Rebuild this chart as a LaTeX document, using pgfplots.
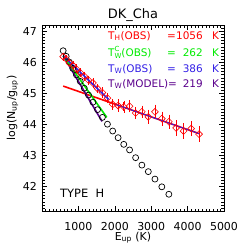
\documentclass[border=0pt]{standalone}
\usepackage{fontspec}
\setmainfont{DejaVu Sans}
\usepackage{pgfplots}
\pgfplotsset{compat=1.18}
\definecolor{idlred}{RGB}{255,0,0}
\definecolor{idlgreen}{RGB}{0,235,0}
\definecolor{idlblue}{RGB}{50,30,230}
\definecolor{idlpurple}{RGB}{90,0,140}
\newcommand\fs[1]{\fontsize{#1}{#1}\selectfont}
\begin{document}
\begin{tikzpicture}[x=1bp,y=1bp]
\begin{axis}[at={(0,0)},anchor=south west, scale only axis, width=182bp, height=186bp,
 xmin=0,xmax=5000,ymin=41.2,ymax=47.2,
 xtick={1000,2000,3000,4000,5000}, ytick={42,43,44,45,46,47},
 minor xtick={0,100,...,5000}, minor ytick={41.3,41.4,...,47.1},
 tick align=inside, major tick length=5bp, minor tick length=2.5bp,
 axis line style={line width=0.6bp}, every tick/.style={black,line width=0.4bp},
 /pgf/number format/1000 sep={}, /pgf/number format/assume math mode=true,
 tick label style={font=\fs{11}},
 xticklabel style={anchor=base, yshift=-19bp, inner sep=0pt},
 yticklabel style={anchor=east, inner sep=0pt, xshift=-5bp},
]
\addplot[only marks, mark=o, mark size=3.0bp, black, mark options={line width=0.7bp}] coordinates {
(581,46.37) (664,46.19) (752,46.00) (846,45.80) (946,45.59) (1052,45.38) (1162,45.16) (1278,44.94)
(1399,44.71) (1526,44.47) (1660,44.22) (1798,44.00) (1942,43.78) (2091,43.565) (2246,43.35)
(2406,43.17) (2572,42.92) (2744,42.68) (2921,42.47) (3103,42.23) (3292,41.98) (3485,41.74)};
\addplot[only marks, idlred, mark=square, mark size=2.4bp, mark options={rotate=45, line width=0.6bp},
  error bars/.cd, y dir=both, y explicit, error bar style={line width=0.6bp}, error mark options={mark size=1.5bp}]
 table[x=E,y=y,y error=e] {
E y e
581 46.18 0.08
664 46.10 0.08
752 45.98 0.08
846 45.90 0.08
946 45.78 0.1
1052 45.66 0.1
1162 45.55 0.1
1278 45.42 0.1
1399 45.33 0.1
1526 45.15 0.1
1660 45.02 0.12
1798 44.84 0.12
1942 44.64 0.12
2091 44.60 0.15
2246 44.56 0.15
2406 44.58 0.15
2572 44.36 0.15
2744 44.40 0.15
2921 44.24 0.18
3103 44.40 0.18
3292 44.18 0.18
3485 44.08 0.18
3684 43.88 0.2
3889 43.78 0.2
4099 43.86 0.2
4315 43.68 0.2
};
\addplot[idlred, line width=1.6bp] coordinates {(582,45.23) (4320,43.695)};
\addplot[idlblue, line width=0.9bp] coordinates {(2000,44.647) (4320,43.695)};
\addplot[idlpurple, line width=1.6bp] coordinates {(586,46.2) (1650,44.09)};
\addplot[idlgreen, line width=1.6bp] coordinates {(586,46.2) (1780,44.22)};
\addplot[idlblue, line width=1.6bp] coordinates {(586,46.2) (1830,44.80)};
\end{axis}
\node[anchor=base, inner sep=0pt, font=\fs{13}] at (91,193) {DK\_Cha};
\node[anchor=base west, inner sep=0pt, font=\fs{10.5}, text=idlred] at (66,172) {T\textsubscript{H}(OBS)};
\node[anchor=base west, inner sep=0pt, font=\fs{10.5}, text=idlgreen] at (66,155) {T\rlap{\raisebox{0.8ex}{\fs{7}C}}\raisebox{-0.4ex}{\fs{7}W}(OBS)};
\node[anchor=base west, inner sep=0pt, font=\fs{10.5}, text=idlblue] at (66,139) {T\textsubscript{W}(OBS)};
\node[anchor=base west, inner sep=0pt, font=\fs{10.5}, text=idlpurple] at (66,124) {T\textsubscript{W}(MODEL)};
\node[anchor=base west, inner sep=0pt, font=\fs{10.5}, text=idlred] at (125,172) {=};
\node[anchor=base west, inner sep=0pt, font=\fs{10.5}, text=idlgreen] at (125,155) {=};
\node[anchor=base west, inner sep=0pt, font=\fs{10.5}, text=idlblue] at (125,139) {=};
\node[anchor=base west, inner sep=0pt, font=\fs{10.5}, text=idlpurple] at (126,124) {=};
\node[anchor=base east, inner sep=0pt, font=\fs{10.5}, text=idlred] at (161,172) {1056};
\node[anchor=base east, inner sep=0pt, font=\fs{10.5}, text=idlgreen] at (161,155) {262};
\node[anchor=base east, inner sep=0pt, font=\fs{10.5}, text=idlblue] at (161,139) {386};
\node[anchor=base east, inner sep=0pt, font=\fs{10.5}, text=idlpurple] at (161,124) {219};
\node[anchor=base west, inner sep=0pt, font=\fs{10.5}, text=idlred] at (170,172) {K};
\node[anchor=base west, inner sep=0pt, font=\fs{10.5}, text=idlgreen] at (170,155) {K};
\node[anchor=base west, inner sep=0pt, font=\fs{10.5}, text=idlblue] at (170,139) {K};
\node[anchor=base west, inner sep=0pt, font=\fs{10.5}, text=idlpurple] at (170,124) {K};
\node[anchor=base west, inner sep=0pt, font=\fs{11.5}] at (18,14) {TYPE\ \ H};
\node[anchor=base, inner sep=0pt, font=\fs{11}] at (91,-29) {E\textsubscript{up} (K)};
\node[anchor=base, inner sep=0pt, font=\fs{11}, rotate=90] at (-27,103) {log(N\textsubscript{up}/g\textsubscript{up})};
\path (-42,-38) rectangle (207,211);
\end{tikzpicture}
\end{document}
